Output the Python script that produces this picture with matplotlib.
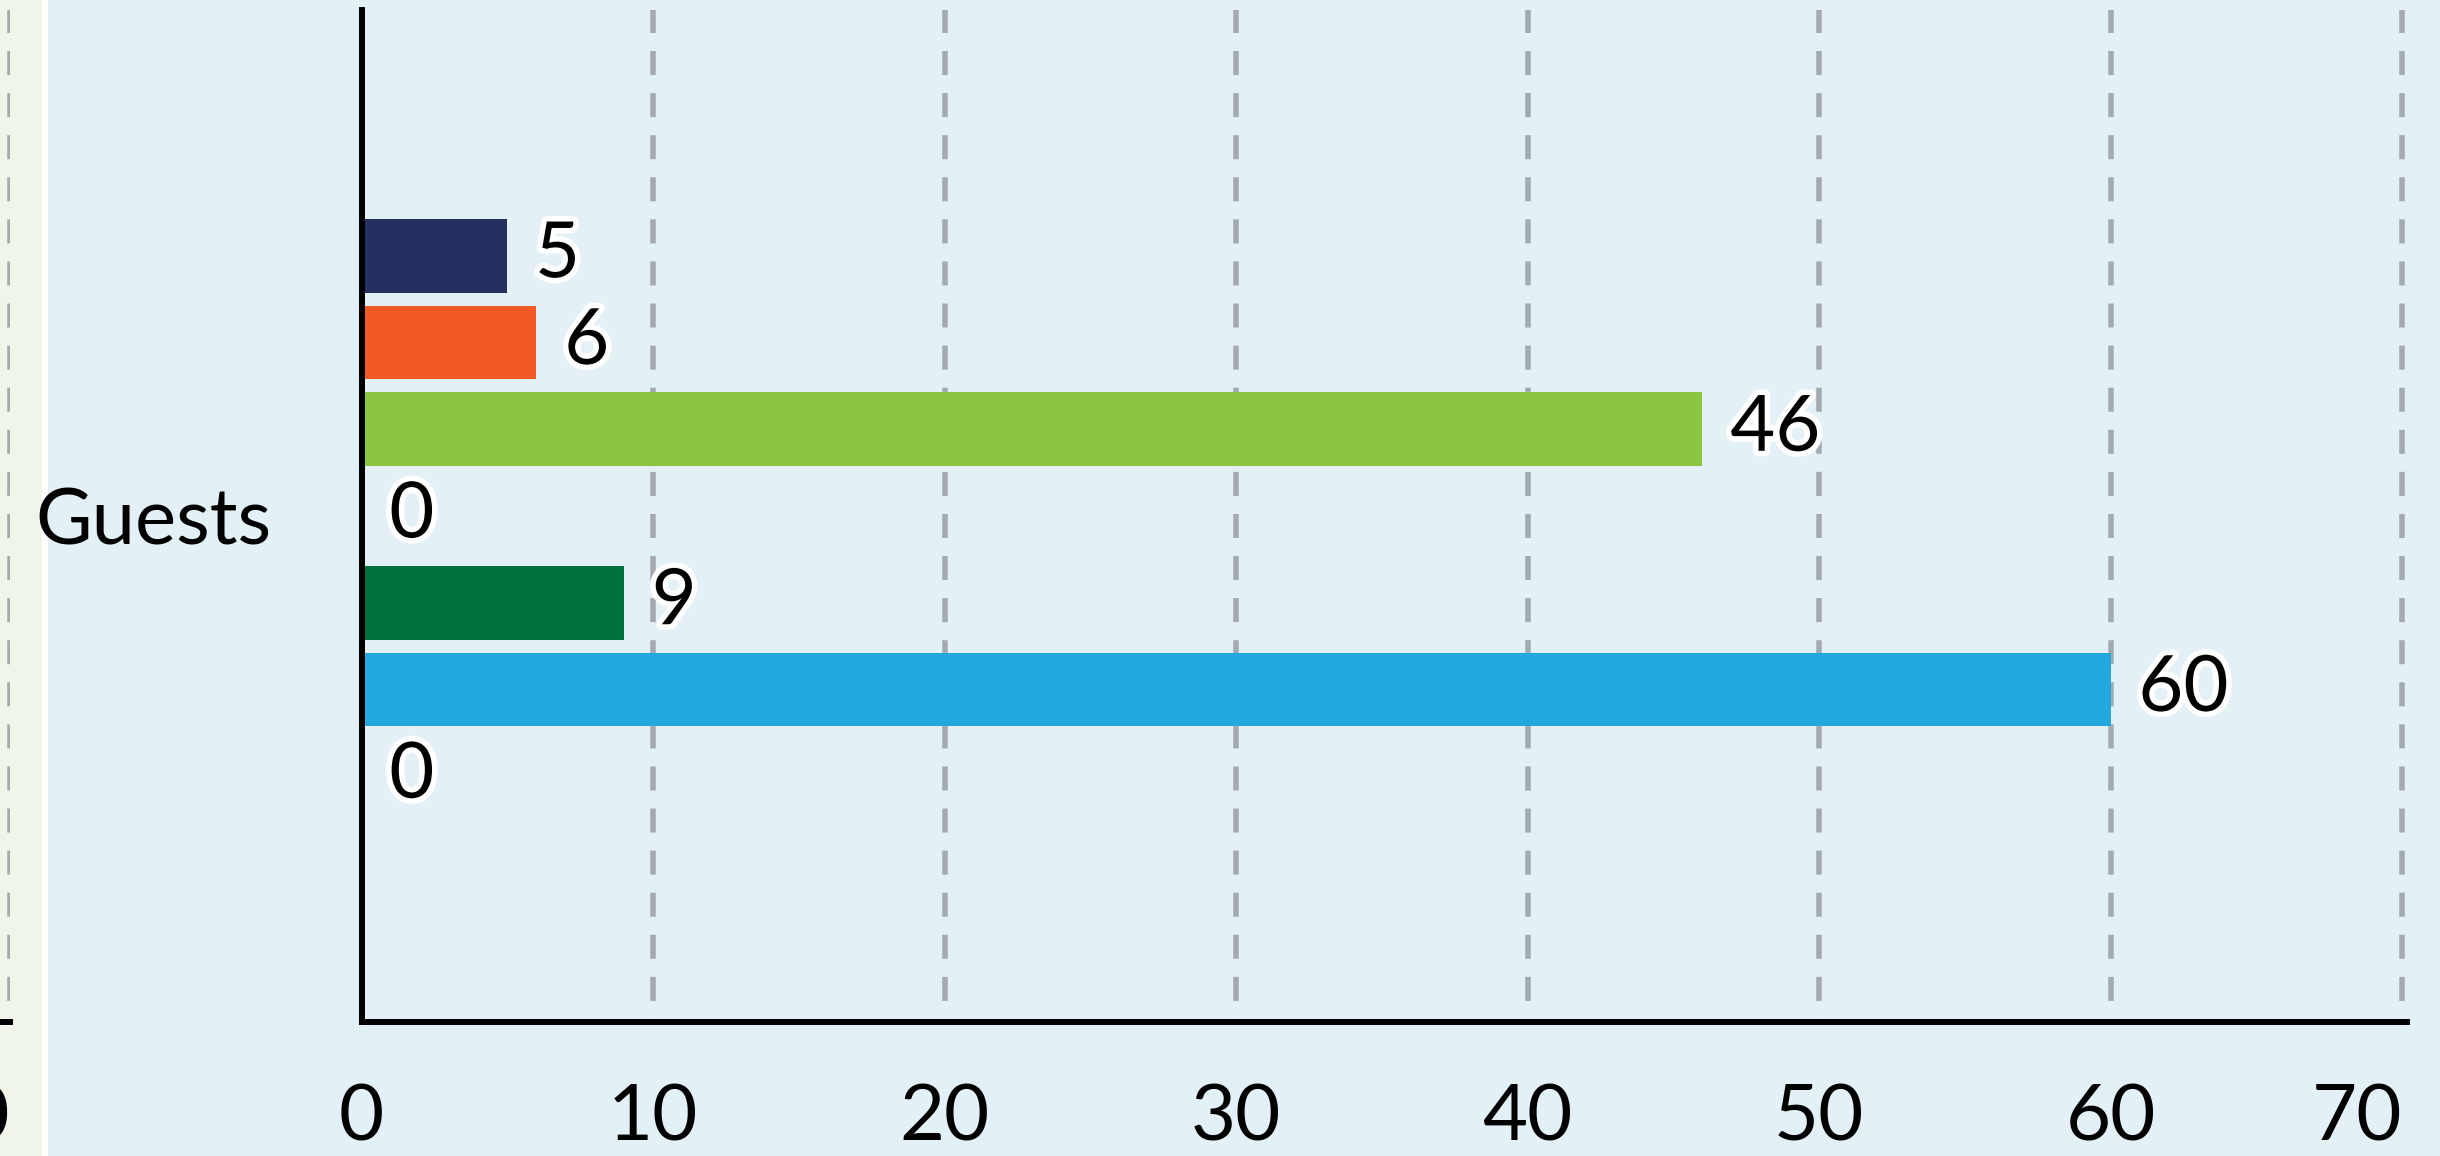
import matplotlib
matplotlib.use('Agg')
import matplotlib.pyplot as plt
import numpy as np
from matplotlib import patheffects
from matplotlib.patches import Rectangle

plt.rcParams['font.family'] = ['Lato', 'DejaVu Sans']
plt.rcParams['lines.scale_dashes'] = False

# data
categories = ['Guests']
series_values = [5, 6, 46, 0, 9, 60, 0]
series_colors = ['#232f5f', '#f15a24', '#8cc541', '#f7941d', '#00703c', '#22a7df', '#662d91']
x_ticks = [0, 10, 20, 30, 40, 50, 60, 70]
x_max = 70.17

W, H = 2440, 1156
FONT = 56
GRID_COLOR = '#a3abb1'
GRID_STYLE = (15.1, (17.3, 13.0))

fig = plt.figure(figsize=(W / 100, H / 100), dpi=100, facecolor='white')
fig.patches.append(Rectangle((0, 0), 42 / W, 1, transform=fig.transFigure,
                             facecolor='#eff5e8', edgecolor='none', zorder=-10))
fig.patches.append(Rectangle((48 / W, 0), 1 - 48 / W, 1, transform=fig.transFigure,
                             facecolor='#e3f0f6', edgecolor='none', zorder=-10))

ax_bottom = (H - 1022) / H
ax_height = 1012 / H
ax_left = 361.5
ax_right = 2407
px_per_unit = (ax_right - ax_left) / x_max


def style_axis(ax, xmax):
    ax.set_facecolor('none')
    ax.set_xlim(0, xmax)
    ax.set_xticks(x_ticks)
    ax.set_xticklabels([str(t) for t in x_ticks])
    ax.xaxis.get_majorticklabels()[-1].set_horizontalalignment('right')
    ax.tick_params(axis='x', length=0, pad=44, labelsize=FONT)
    ax.xaxis.grid(True, color=GRID_COLOR, linewidth=4, linestyle=GRID_STYLE)
    ax.set_axisbelow(True)
    for side in ['top', 'right']:
        ax.spines[side].set_visible(False)
    ax.spines['bottom'].set_linewidth(4.3)
    ax.spines['bottom'].set_color('black')


# neighbouring panel, mostly cut off at the left edge
n_width = 70 * px_per_unit
ax0 = fig.add_axes([(10 - n_width) / W, ax_bottom, n_width / W, ax_height])
style_axis(ax0, 70)
ax0.spines['left'].set_visible(False)
ax0.set_yticks([])

# main panel
ax = fig.add_axes([ax_left / W, ax_bottom, (ax_right - ax_left) / W, ax_height])
style_axis(ax, x_max)
ax.spines['left'].set_linewidth(4.3)
ax.spines['left'].set_color('black')

n = len(series_values)
step = 0.6 / n
offsets = (np.arange(n) - (n - 1) / 2) * step
bars = ax.barh(offsets, series_values, height=0.85 * step, color=series_colors)
ax.set_ylim(0.5, -0.5)
ax.set_yticks([0])
ax.set_yticklabels(categories)
ax.tick_params(axis='y', length=0, pad=65, labelsize=FONT)

ax.bar_label(bars, labels=[str(v) for v in series_values], padding=20, fontsize=FONT,
             path_effects=[patheffects.withStroke(linewidth=8, foreground='white')])

fig.savefig('out.png', dpi=100, facecolor=fig.get_facecolor())
